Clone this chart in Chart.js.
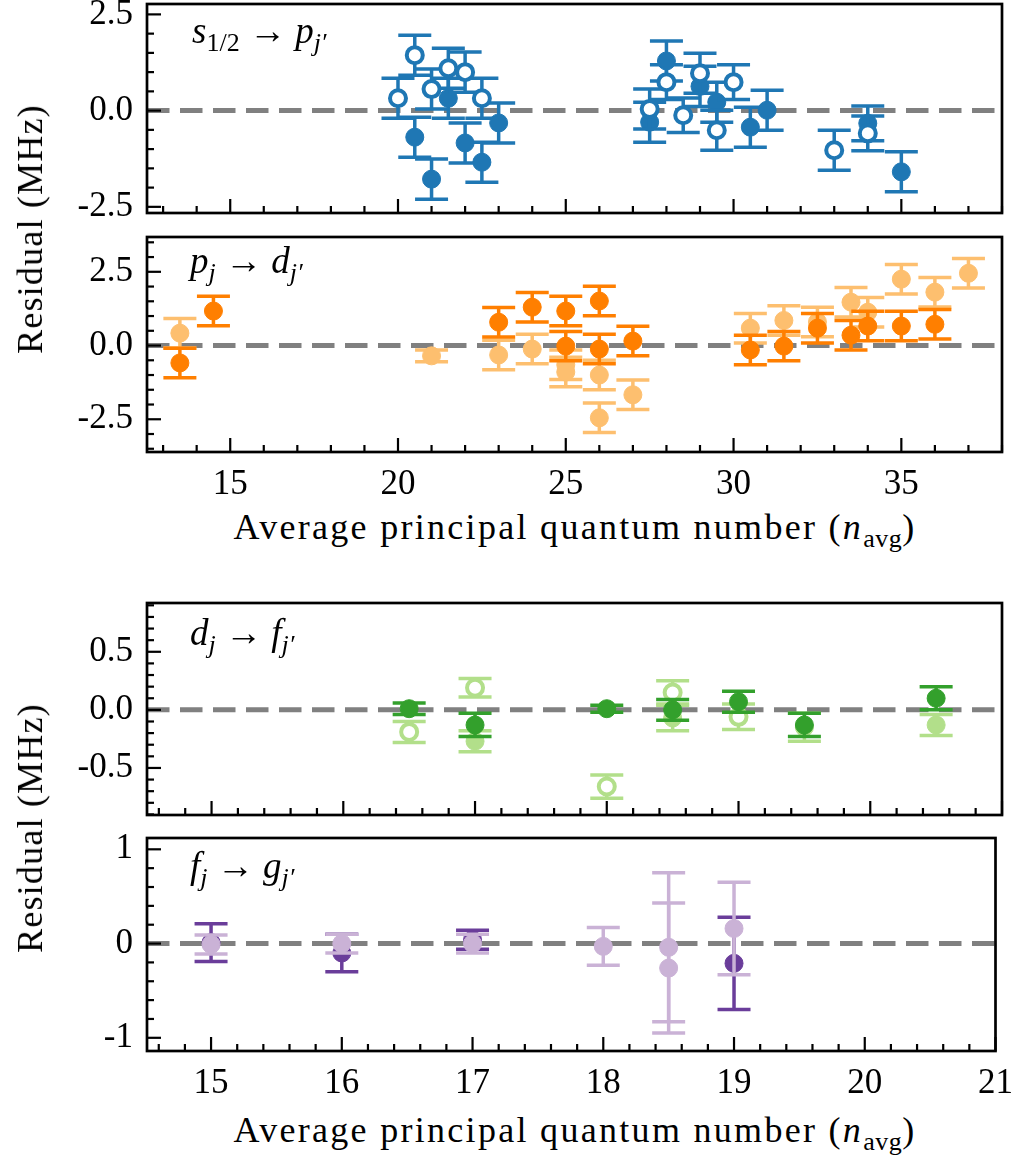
<!DOCTYPE html>
<html><head><meta charset="utf-8">
<script src="https://cdn.jsdelivr.net/npm/chart.js@4.4.1/dist/chart.umd.min.js"></script>
<style>
html,body{margin:0;padding:0;background:#fff;width:1025px;height:1158px;overflow:hidden;position:relative;font-family:'Liberation Serif',serif;}
canvas{position:absolute;left:0;}
.lbl{position:absolute;font-family:'Liberation Serif',serif;font-size:36px;line-height:1;color:#000;white-space:nowrap;}
.ytitle{transform:translate(-50%,-50%) rotate(-90deg);letter-spacing:1.2px;}
.xtitle{transform:translate(-50%,-50%);letter-spacing:2.3px;}
.pl{font-size:37px;}
.pl sub{font-size:26px;vertical-align:-0.3em;line-height:0;}
.xtitle sub{font-size:26px;vertical-align:-0.3em;line-height:0;letter-spacing:0.5px;}
</style></head><body>
<canvas id="c1"></canvas><canvas id="c2"></canvas><canvas id="c3"></canvas><canvas id="c4"></canvas>
<div class="lbl ytitle" style="left:30px;top:229px">Residual (MHz)</div>
<div class="lbl ytitle" style="left:30px;top:828px">Residual (MHz)</div>
<div class="lbl xtitle" style="left:575px;top:527px">Average principal quantum number (<i>n</i><sub>avg</sub>)</div>
<div class="lbl xtitle" style="left:575px;top:1130px">Average principal quantum number (<i>n</i><sub>avg</sub>)</div>
<div class="lbl pl" style="left:192px;top:12px"><i>s</i><sub>1/2</sub> → <i>p</i><sub><i>j′</i></sub></div>
<div class="lbl pl" style="left:190px;top:242px"><i>p</i><sub><i>j</i></sub> → <i>d</i><sub><i>j′</i></sub></div>
<div class="lbl pl" style="left:190px;top:614px"><i>d</i><sub><i>j</i></sub> → <i>f</i><sub><i>j′</i></sub></div>
<div class="lbl pl" style="left:190px;top:847px"><i>f</i><sub><i>j</i></sub> → <i>g</i><sub><i>j′</i></sub></div>
<script>
// ---------- DATA ----------
// s1/2 -> pj'  (top panel)
const spOpenN  = [20, 20.5, 21, 21.5, 22, 22.5, 27.5, 28, 28.5, 29, 29.5, 30, 33, 34];
const spOpenR  = [0.32, 1.44, 0.56, 1.10, 1.00, 0.32, 0.04, 0.74, -0.12, 0.97, -0.51, 0.74, -1.03, -0.59];
const spOpenE  = [0.52, 0.52, 0.52, 0.52, 0.52, 0.52, 0.52, 0.45, 0.45, 0.52, 0.52, 0.45, 0.52, 0.45];
const spFillN  = [20.5, 21, 21.5, 22, 22.5, 23, 27.5, 28, 29, 29.5, 30.5, 31, 34, 35];
const spFillR  = [-0.69, -1.78, 0.32, -0.84, -1.34, -0.32, -0.30, 1.29, 0.63, 0.22, -0.43, 0.01, -0.33, -1.59];
const spFillE  = [0.52, 0.52, 0.52, 0.52, 0.52, 0.52, 0.52, 0.52, 0.52, 0.52, 0.52, 0.52, 0.45, 0.52];
// pj -> dj'
const pdLightN = [13.5, 21, 23, 24, 25, 25, 26, 26, 27, 30.5, 31.5, 32.5, 33.5, 34, 35, 36, 37];
const pdLightR = [0.42, -0.35, -0.32, -0.12, -0.65, -0.90, -1.00, -2.45, -1.67, 0.59, 0.85, 0.80, 1.47, 1.13, 2.25, 1.81, 2.45];
const pdLightE = [0.5, 0.2, 0.5, 0.5, 0.5, 0.5, 0.5, 0.5, 0.5, 0.5, 0.5, 0.5, 0.5, 0.5, 0.5, 0.5, 0.5];
const pdDarkN  = [13.5, 14.5, 23, 24, 25, 25, 26, 26, 27, 30.5, 31.5, 32.5, 33.5, 34, 35, 36];
const pdDarkR  = [-0.59, 1.17, 0.79, 1.30, 1.17, -0.02, 1.51, -0.12, 0.15, -0.15, -0.02, 0.59, 0.35, 0.66, 0.66, 0.72];
const pdDarkE  = [0.5, 0.5, 0.5, 0.5, 0.5, 0.5, 0.5, 0.5, 0.5, 0.5, 0.5, 0.5, 0.5, 0.5, 0.5, 0.5];
// dj -> fj'
const dfDarkN  = [16.5, 17, 18, 18.5, 19, 19.5, 20.5];
const dfDarkR  = [0.01, -0.13, 0.01, 0.00, 0.07, -0.13, 0.10];
const dfDarkE  = [0.05, 0.10, 0.03, 0.09, 0.09, 0.10, 0.10];
const dfOpenN  = [16.5, 17, 18, 18.5, 19];
const dfOpenR  = [-0.19, 0.19, -0.66, 0.15, -0.06];
const dfOpenE  = [0.09, 0.08, 0.10, 0.10, 0.11];
const dfLightN = [17, 18.5, 19.5, 20.5];
const dfLightR = [-0.27, -0.07, -0.15, -0.13];
const dfLightE = [0.09, 0.11, 0.12, 0.09];
// fj -> gj'
const fgDarkN  = [15, 16, 17, 19];
const fgDarkR  = [0.01, -0.10, 0.04, -0.21];
const fgDarkE  = [0.20, 0.20, 0.10, 0.49];
const fgLightN = [15, 16, 17, 18, 18.5, 18.5, 19];
const fgLightR = [-0.01, 0.00, 0.00, -0.03, -0.04, -0.26, 0.16];
const fgLightE = [0.10, 0.10, 0.10, 0.20, 0.79, 0.69, 0.49];

// axis limits / ticks
const topX = {min: 12.52, max: 38.0, minor: 1, major: 5};
const botX = {min: 14.51, max: 21.0, minor: 0.2, major: 1};
const yAx = [
  {min: -2.66, max: 2.77, minor: 0.5, major: 2.5, dec: 1},
  {min: -3.61, max: 3.68, minor: 0.5, major: 2.5, dec: 1},
  {min: -0.905, max: 0.92, minor: 0.1, major: 0.5, dec: 1},
  {min: -1.14, max: 1.12, minor: 0.2, major: 1, dec: 0}
];

// colours
const BLUE = '#1f77b4';
const OR_D = '#ff7f00', OR_L = '#fdbf6f';
const GR_D = '#33a02c', GR_L = '#b2df8a';
const PU_D = '#6a3d9a', PU_L = '#cab2d6';

// ---------- HELPERS ----------
const FONT = "'Liberation Serif', serif";
const PAD = 40, LEFTW = 147, RIGHTP = 23, CAP = 16.5;
function pts(n, r){ return n.map((x,i)=>({x:x, y:r[i]})); }
function isMajor(v, m){ const q = v/m; return Math.abs(q-Math.round(q)) < 1e-6; }
function series(n, r, e, color, open, order){
  return {
    type:'scatter', data: pts(n,r), err: e, errColor: color, order: order,
    pointRadius: open ? 8 : 9, pointHoverRadius: open ? 8 : 9,
    backgroundColor: open ? '#ffffff' : color, borderColor: color,
    borderWidth: open ? 4 : 1, pointStyle:'circle'
  };
}
function zeroLine(xa){
  return {type:'line', showLine:true, data:[{x:xa.min,y:0},{x:xa.max,y:0}], borderColor:'#808080',
    borderWidth:5, borderDash:[22.5,10.5], pointRadius:0, order:100, fill:false};
}

const errPlugin = {
  id:'errbars',
  beforeDatasetDraw(chart, args){
    const ds = chart.data.datasets[args.index];
    if(!ds.err) return;
    const xs = chart.scales.x, ys = chart.scales.y, ctx = chart.ctx, a = chart.chartArea;
    ctx.save();
    ctx.beginPath(); ctx.rect(a.left, a.top, a.right-a.left, a.bottom-a.top); ctx.clip();
    ctx.strokeStyle = ds.errColor; ctx.lineWidth = 3.5; ctx.lineCap = 'butt';
    ds.data.forEach((p,i)=>{
      const e = ds.err[i];
      const x = xs.getPixelForValue(p.x);
      const yt = ys.getPixelForValue(p.y + e), yb = ys.getPixelForValue(p.y - e);
      ctx.beginPath();
      ctx.moveTo(x, yt); ctx.lineTo(x, yb);
      ctx.moveTo(x-CAP, yt); ctx.lineTo(x+CAP, yt);
      ctx.moveTo(x-CAP, yb); ctx.lineTo(x+CAP, yb);
      ctx.stroke();
    });
    ctx.restore();
  }
};
const framePlugin = {
  id:'frame',
  afterDatasetsDraw(chart, args, opts){
    const ctx = chart.ctx, a = chart.chartArea, xs = chart.scales.x, ys = chart.scales.y;
    ctx.save();
    ctx.strokeStyle = '#000'; ctx.lineWidth = 2.2;
    xs.ticks.forEach(t=>{
      const px = xs.getPixelForValue(t.value);
      if(px < a.left-0.5 || px > a.right+0.5) return;
      const L = isMajor(t.value, opts.xMajor) ? 14 : 7;
      ctx.beginPath(); ctx.moveTo(px, a.bottom); ctx.lineTo(px, a.bottom-L); ctx.stroke();
    });
    ys.ticks.forEach(t=>{
      const py = ys.getPixelForValue(t.value);
      if(py < a.top-0.5 || py > a.bottom+0.5) return;
      const L = isMajor(t.value, opts.yMajor) ? 14 : 7;
      ctx.beginPath(); ctx.moveTo(a.left, py); ctx.lineTo(a.left+L, py); ctx.stroke();
    });
    ctx.lineWidth = 2.7;
    ctx.strokeRect(a.left, a.top, a.right-a.left, a.bottom-a.top);
    ctx.restore();
  }
};

function panel(id, top, bottom, xa, ya, showX, bottomH, datasets){
  const cv = document.getElementById(id);
  const h = PAD + (bottom-top) + bottomH;
  cv.width = 1025; cv.height = h;
  cv.style.top = (top-PAD)+'px';
  cv.style.width = '1025px'; cv.style.height = h+'px';
  return new Chart(cv, {
    type:'scatter',
    data:{datasets: [zeroLine(xa)].concat(datasets)},
    options:{
      responsive:false, animation:false, devicePixelRatio:1,
      layout:{padding:{top:PAD, right:RIGHTP, left:0, bottom:0}},
      plugins:{legend:{display:false}, tooltip:{enabled:false},
        frame:{xMajor: xa.major, yMajor: ya.major}},
      events:[],
      scales:{
        x:{type:'linear', min:xa.min, max:xa.max,
          grid:{display:false, drawTicks:false}, border:{display:false},
          ticks:{stepSize:xa.minor, includeBounds:false, autoSkip:false, maxRotation:0,
            padding:12, color:'#000', font:{family:FONT, size:35},
            callback:(v)=> (showX && isMajor(v, xa.major)) ? String(Math.round(v)) : ''},
          afterFit:(s)=>{ s.height = bottomH; }},
        y:{type:'linear', min:ya.min, max:ya.max,
          grid:{display:false, drawTicks:false}, border:{display:false},
          ticks:{stepSize:ya.minor, includeBounds:false, autoSkip:false,
            padding:14, color:'#000', font:{family:FONT, size:35},
            callback:(v)=> isMajor(v, ya.major) ? (Math.abs(v)<1e-9 ? (0).toFixed(ya.dec) : v.toFixed(ya.dec)) : ''},
          afterFit:(s)=>{ s.width = LEFTW; }}
      }
    },
    plugins:[errPlugin, framePlugin]
  });
}

panel('c1', 4, 213, topX, yAx[0], false, 55, [
  series(spFillN, spFillR, spFillE, BLUE, false, 2),
  series(spOpenN, spOpenR, spOpenE, BLUE, true, 1)
]);
panel('c2', 237, 452, topX, yAx[1], true, 55, [
  series(pdLightN, pdLightR, pdLightE, OR_L, false, 2),
  series(pdDarkN, pdDarkR, pdDarkE, OR_D, false, 1)
]);
panel('c3', 603, 815, botX, yAx[2], false, 55, [
  series(dfOpenN, dfOpenR, dfOpenE, GR_L, true, 3),
  series(dfLightN, dfLightR, dfLightE, GR_L, false, 2),
  series(dfDarkN, dfDarkR, dfDarkE, GR_D, false, 1)
]);
panel('c4', 838, 1051, botX, yAx[3], true, 55, [
  series(fgDarkN, fgDarkR, fgDarkE, PU_D, false, 2),
  series(fgLightN, fgLightR, fgLightE, PU_L, false, 1)
]);
</script>
</body></html>
